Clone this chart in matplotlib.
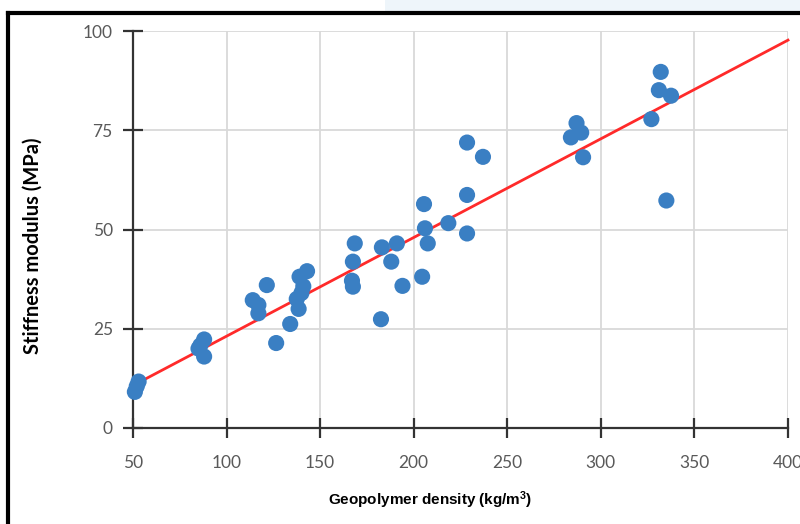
import matplotlib
matplotlib.use("Agg")
import matplotlib.pyplot as plt
from matplotlib.lines import Line2D
from matplotlib.patches import Rectangle

plt.rcParams["mathtext.fontset"] = "custom"
plt.rcParams["mathtext.rm"] = "Liberation Sans:bold"
plt.rcParams["mathtext.it"] = "Liberation Sans:bold"
plt.rcParams["mathtext.bf"] = "Liberation Sans:bold"

# Data
density = [51, 52, 53, 85, 86, 88, 88, 114, 117, 117, 121.5, 126.5, 134,
           137.5, 138.5, 139, 140, 141, 143, 167, 167.5, 167.5, 168.5,
           182.5, 183, 188, 191, 194, 204.5, 205.5, 206, 207.5, 218.5,
           228.5, 228.5, 228.5, 237, 284, 287, 289.5, 290.5, 327, 331,
           332, 335, 337.5]
stiffness = [9.1, 10.5, 11.7, 20.0, 20.8, 22.3, 18.0, 32.2, 31.0, 28.9,
             36.0, 21.4, 26.2, 32.5, 30.0, 38.1, 34.0, 35.7, 39.5, 37.1,
             41.9, 35.6, 46.5, 27.4, 45.5, 41.9, 46.5, 35.8, 38.1, 56.4,
             50.3, 46.5, 51.6, 71.9, 58.7, 49.0, 68.3, 73.2, 76.8, 74.4,
             68.2, 77.8, 85.1, 89.7, 57.3, 83.7]
fit_x = [50, 400]
fit_y = [10.7, 97.7]
x_ticks = [50, 100, 150, 200, 250, 300, 350, 400]
y_ticks = [0, 25, 50, 75, 100]

fig = plt.figure(figsize=(8.0, 5.24), dpi=100)
fig.patch.set_facecolor("white")

# decorative page elements (border and light band)
fig.patches.append(Rectangle((385 / 800, 1 - 12 / 524), 415 / 800, 12 / 524,
                             transform=fig.transFigure, facecolor="#eef5fa",
                             edgecolor="none", zorder=0))
fig.lines.append(Line2D([8 / 800, 1.0], [1 - 13 / 524, 1 - 13 / 524],
                        transform=fig.transFigure, color="black", lw=3.0))
fig.lines.append(Line2D([8 / 800, 8 / 800], [0, 1 - 13 / 524],
                        transform=fig.transFigure, color="black", lw=3.0))

ax = fig.add_axes([133 / 800, 1 - 428 / 524, (788 - 133) / 800, (428 - 31) / 524])
ax.set_xlim(50, 400)
ax.set_ylim(0, 100)

ax.grid(True, color="#d9d9d9", lw=1.3, zorder=0)
ax.set_axisbelow(True)

for s in ["top", "right"]:
    ax.spines[s].set_visible(False)
for s in ["left", "bottom"]:
    ax.spines[s].set_color("#333333")
    ax.spines[s].set_linewidth(1.6)
    ax.spines[s].set_zorder(2)

ax.plot(fit_x, fit_y, color="#ff2a2a", lw=2.0, zorder=3, clip_on=False)
ax.scatter(density, stiffness, s=135, color="#3a7fc3", edgecolors="none",
           zorder=4, clip_on=False)

ax.set_xticks(x_ticks)
ax.set_yticks(y_ticks)
ax.tick_params(axis="both", direction="inout", length=15, width=1.6,
               color="#333333", labelcolor="#595959", labelsize=12.5)
ax.tick_params(axis="x", pad=12)
ax.tick_params(axis="y", pad=7)
for lab in ax.get_xticklabels() + ax.get_yticklabels():
    lab.set_fontfamily("Lato")

ax.set_xlabel("Geopolymer density (kg/m$^{3}$)", fontsize=11, fontweight="bold",
              family="Liberation Sans", va="center", ha="center")
ax.xaxis.set_label_coords((430 - 133) / 655, -(500 - 428) / 397)
ax.set_ylabel("Stiffness modulus (MPa)", fontsize=14.5, fontweight="bold",
              family="Lato", va="center", ha="center")
ax.yaxis.set_label_coords(-(133 - 32.5) / 655, (428 - 246) / 397)

fig.savefig("out.png", dpi=100)
